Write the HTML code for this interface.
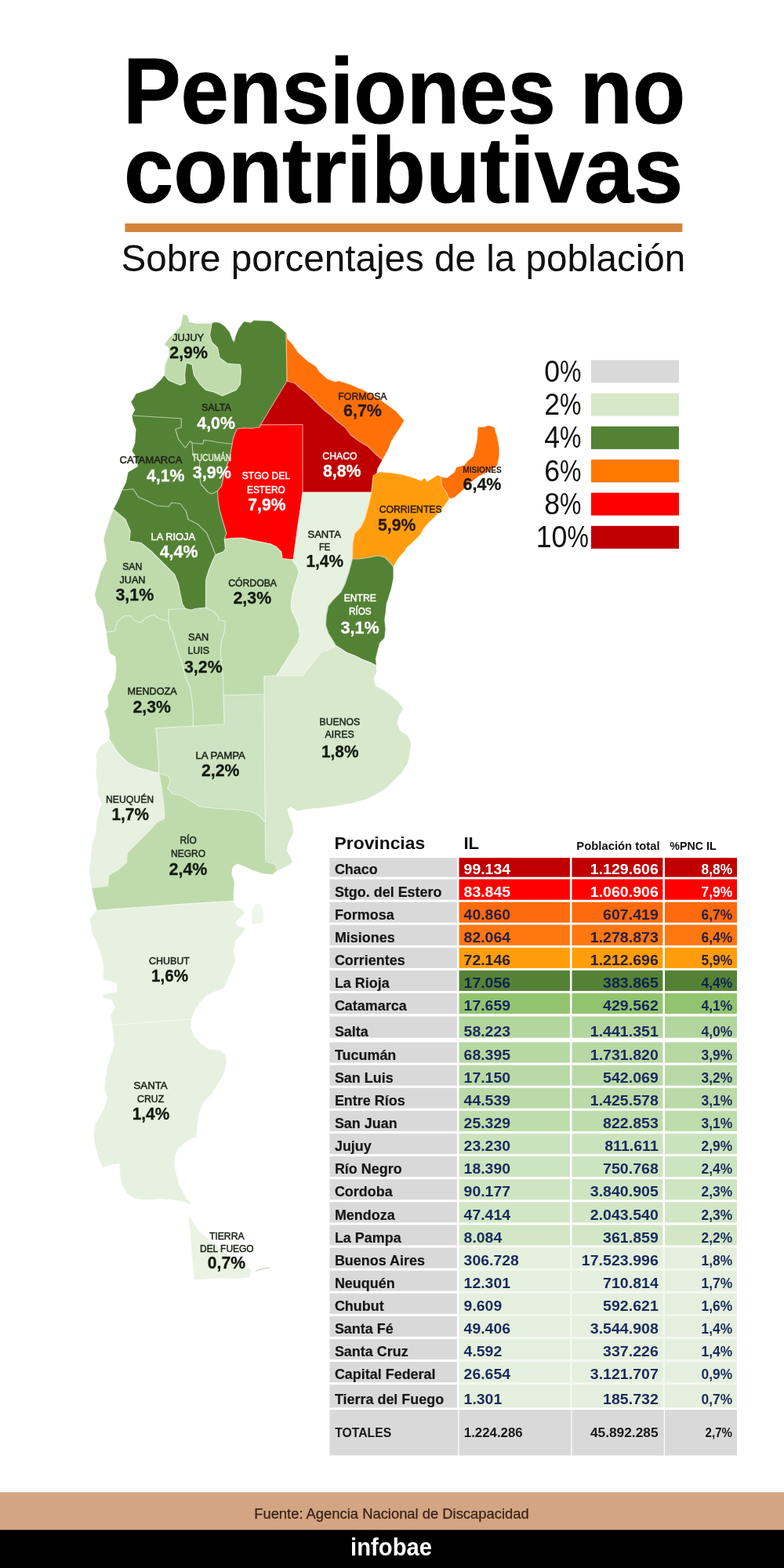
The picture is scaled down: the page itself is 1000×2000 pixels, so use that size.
<!DOCTYPE html>
<html lang="es">
<head>
<meta charset="utf-8">
<title>Pensiones no contributivas</title>
<style>
html,body{margin:0;padding:0;background:#fff;}
body{width:1000px;height:2000px;overflow:hidden;}
svg{display:block;font-family:'Liberation Sans', sans-serif;}
</style>
</head>
<body>
<svg width="1000" height="2000" viewBox="0 0 1000 2000">
<rect x="0" y="0" width="1000" height="2000" fill="#fff"/>
<text x="156.9" y="156.7" font-size="118.6" font-weight="700" fill="#000" textLength="717.3" lengthAdjust="spacingAndGlyphs" stroke="#000" stroke-width="1" stroke-linejoin="round">Pensiones no</text>
<text x="158.1" y="258.1" font-size="118.6" font-weight="700" fill="#000" textLength="713.2" lengthAdjust="spacingAndGlyphs" stroke="#000" stroke-width="1" stroke-linejoin="round">contributivas</text>
<rect x="159.4" y="285" width="711" height="11" fill="#D2853A"/>
<text x="154.5" y="346" font-size="49" fill="#111" textLength="719.8" lengthAdjust="spacingAndGlyphs">Sobre porcentajes de la población</text>
<g stroke-linejoin="round" stroke-width="0.6">
<polygon points="270,413 273.75,411.25 280,412 286.25,416.25 292.5,423.75 296.25,433.75 298.75,437 301.25,427.5 305,418.75 311.25,410.5 320,412 323.75,409 346.25,410 355,416.25 365,425 366,486 330.5,545 320,546.3 311,545.8 302.5,547 299.5,553 297.2,560 296.25,566.25 280,564.5 270,562.5 260,561.25 258.75,566.25 245,565 242.5,562.5 236.25,571.25 227.5,560 223.75,547.5 231.25,545 231.25,533.75 200,532 168.75,530 172.5,522.5 170,517.5 167.5,512.5 171.25,507.5 173.75,502.5 185,498.75 195,495 200,490 206.25,483.75 210,478.75 215,485 230,491.25 236.25,488.75 235.5,477.5 237.5,462.5 245,465 247.5,478.75 255,490 262.5,497.5 272.5,500 283.75,505 301.25,497.5 306.25,490 307.5,472.5 306.25,465 290,463.75 280,456.25 277.5,443.75 270,436.25 267.5,427.5" fill="#548235" stroke="#548235"/>
<polygon points="210,478.75 211.25,465 216.25,452.5 215,442.5 210,440 215,432.5 225,422.5 231.25,415 233.75,401.25 238.75,402.5 241.25,411.25 250,413 270,413 267.5,427.5 270,436.25 277.5,443.75 280,456.25 290,463.75 306.25,465 307.5,472.5 306.25,490 301.25,497.5 283.75,505 272.5,500 262.5,497.5 255,490 247.5,478.75 245,465 237.5,462.5 235.5,477.5 236.25,488.75 230,491.25 215,485" fill="#BFDBAC" stroke="#BFDBAC"/>
<polygon points="365,425 366.25,432.5 371.25,437.5 380,450 392.5,461.25 402.5,467.5 407.5,475 417.5,483.75 427.5,487.5 432.5,486.25 447.5,491.25 465,498.75 482.5,508.75 495,517.5 505,525 515,536.25 510,545 505,552.5 498.75,562.5 495,572.5 487.5,586.25 480,580 470,570 457.5,562.5 447.5,555 440,545 430,537.5 422.5,530 412.5,522.5 402.5,512.5 392.5,502.5 382.5,495 376.25,488.75 366.25,486.25 366,486" fill="#FF7009" stroke="#FF7009"/>
<polygon points="366.25,486.25 376.25,488.75 382.5,495 392.5,502.5 402.5,512.5 412.5,522.5 422.5,530 430,537.5 440,545 447.5,555 457.5,562.5 470,570 480,580 487.5,586.25 481.25,597.5 480,603.75 476.25,606.25 475,617.5 473.75,628 386,628 386,585 386,541.5 333,541.8 330.5,545 366,486" fill="#C00000" stroke="#C00000"/>
<polygon points="296.25,566.25 297.2,560 299.5,553 302.5,547 311,545.8 320,546.3 330.5,545 333,541.8 386,541.5 386,585 386,628 383.75,645 380,670 377,692.5 374.25,713 372.5,713.75 360,712.5 358.75,703.75 352.5,697.5 345,693.75 332.5,691.25 320,688.75 310,686.25 300,686.25 286.25,687.5 288.75,680 285,667.5 280,650 278,637.5 277.5,626.25 282.5,620 286.25,602.5 292.5,585" fill="#FF0000" stroke="#FF0000"/>
<polygon points="245,565 258.75,566.25 260,561.25 270,562.5 280,564.5 296.25,566.25 292.5,585 286.25,602.5 282.5,620 277.5,626.25 270,630 265,627.5 256.25,617.5 253.75,602.5 255,587.5 246.25,581.25" fill="#548235" stroke="#548235"/>
<polygon points="168.75,530 200,532 231.25,533.75 231.25,545 223.75,547.5 227.5,560 236.25,571.25 242.5,562.5 245,565 246.25,581.25 255,587.5 253.75,602.5 256.25,617.5 265,627.5 270,630 277.5,626.25 278,637.5 280,650 285,667.5 288.75,680 286.25,687.5 287.5,700 285,703.75 275,707.5 270,695 263.75,680 252.5,668.75 240,662.5 237.5,652.5 230,642.5 218.75,641.25 215,646.25 200,645 190,640 176.25,633.75 170,623.75 156.25,625 161.25,615 163.75,602.5 176.25,595 173.75,582.5 168.75,575 172.5,565 173.75,547.5 170,537.5" fill="#548235" stroke="#548235"/>
<polygon points="156.25,625 170,623.75 176.25,633.75 190,640 200,645 215,646.25 218.75,641.25 230,642.5 237.5,652.5 240,662.5 252.5,668.75 263.75,680 270,695 275,707.5 271.25,715 266.25,727.5 262.5,740 262.5,775 250,776.25 243.75,778 236.25,776.25 232.5,770 230,757.5 227.5,745 222.5,732.5 215,725 205,715 192.5,702.5 180,692.5 165,690 166.25,677.5 160,662.5 145,650 151.25,637.5" fill="#548235" stroke="#548235"/>
<polygon points="145,650 141.25,660 136.25,675 132.5,687.5 135,702.5 136.25,715 128.75,730 125,745 121.25,757.5 123.75,770 131.25,780 133.75,795 136.25,806.25 146.25,805 150,792.5 160,785 167.5,786.25 172.5,792.5 180,793.75 187.5,787.5 196.25,783.75 202.5,788.75 215,792.5 215,777.5 236.25,776.25 232.5,770 230,757.5 227.5,745 222.5,732.5 215,725 205,715 192.5,702.5 180,692.5 165,690 166.25,677.5 160,662.5" fill="#BFDBAC" stroke="#BFDBAC"/>
<polygon points="236.25,776.25 243.75,778 250,776.25 262.5,775 272.5,780 277.5,785 280,791.25 287.5,792.5 286.25,805 282.5,817.5 281.25,832.5 282.5,845 283.75,857.5 285,870 285,887 286.25,923.75 246.25,926.25 246.25,907.5 245,892.5 242.5,877.5 236.25,862.5 232.5,847.5 227.5,832.5 223.75,820 220,805 217.5,802.5 215,792.5 215,777.5" fill="#BFDBAC" stroke="#BFDBAC"/>
<polygon points="286.25,687.5 300,686.25 310,686.25 320,688.75 332.5,691.25 345,693.75 352.5,697.5 358.75,703.75 360,712.5 372.5,713.75 378.75,722.5 381.25,730 378.75,738.75 375,750 372.5,760 371.25,772.5 372.5,780 377.5,790 381.25,800 382.5,810 380,820 372.5,830 365,842.5 358.75,852.5 352.5,862 337,862.5 337,885.5 285,887 285,870 283.75,857.5 282.5,845 281.25,832.5 282.5,817.5 286.25,805 287.5,792.5 280,791.25 277.5,785 272.5,780 262.5,775 262.5,740 266.25,727.5 271.25,715 275,707.5 285,703.75 287.5,700" fill="#BFDBAC" stroke="#BFDBAC"/>
<polygon points="386,628 473.75,628 470,645 465,662.5 460,672.5 452.5,680 450,692.5 449.5,713 445,730 440,745 435,755 425,765 418.75,772.5 416.25,785 415.5,797.5 418.75,807.5 425,817.5 428.75,823.75 416.25,830.5 410,831.25 386.25,862 352.5,862 358.75,852.5 365,842.5 372.5,830 380,820 382.5,810 381.25,800 377.5,790 372.5,780 371.25,772.5 372.5,760 375,750 378.75,738.75 381.25,730 378.75,722.5 372.5,713.75 374.25,713 377,692.5 380,670 383.75,645" fill="#E7F1E0" stroke="#E7F1E0"/>
<polygon points="476.25,606.25 485,602.5 500,603.75 515,606.25 527.5,610 537.5,613.75 541.25,610 545,615 552.5,610 558.75,606.25 562.5,608.75 563.75,620 568.75,627.5 572.5,635 572,637.2 566,645.6 558.8,654 553.4,660 545.6,667.2 539.6,674.4 536,681.6 530,687.6 524,693.6 518,698.4 515.6,703.2 510.8,708 507.2,712.8 503.6,718.8 501.25,722.5 497.5,717.5 491.25,711.25 482.5,708.75 470,711.25 457.5,713 449.5,713 450,692.5 452.5,680 460,672.5 465,662.5 470,645 473.75,628 475,617.5" fill="#FF9D0E" stroke="#FF9D0E"/>
<polygon points="562.5,608.75 570,610 580,602.5 582.5,596.25 592.5,593.75 597.5,587.5 603.75,582.5 606.25,573.75 608.75,562.5 610,545 617.5,545 622.5,543 630,545 633.75,557.5 636.25,570 636.25,582.5 633.75,593.75 622.5,601.25 610,607.5 600,615 590,625 580,633.75 575,635.5 572.5,635 568.75,627.5 563.75,620" fill="#FF7009" stroke="#FF7009"/>
<polygon points="449.5,713 457.5,713 470,711.25 482.5,708.75 491.25,711.25 497.5,717.5 501.25,722.5 501.25,737.5 498.75,750 495,762.5 492.5,770 491.25,782.5 490,790 491.25,802.5 490,813.75 483.75,820 481.25,830 478.75,840 479.5,848.75 472.5,845 462.5,841.25 452.5,836.25 442.5,832.5 435,827.5 428.75,823.75 425,817.5 418.75,807.5 415.5,797.5 416.25,785 418.75,772.5 425,765 435,755 440,745 445,730" fill="#548235" stroke="#548235"/>
<polygon points="215,792.5 202.5,788.75 196.25,783.75 187.5,787.5 180,793.75 172.5,792.5 167.5,786.25 160,785 150,792.5 146.25,805 136.25,806.25 137.5,820 140,832.5 147.5,837.5 148.75,850 147.5,865 142.5,877.5 137.5,887.5 138.75,900 133.75,907.5 137.5,920 140,932.5 140,943.75 150,960 162.5,972.5 175,978.75 192.5,983.75 202.5,986.25 202.5,975 201.25,955 200,940 198.75,928.75 246.25,926.25 246.25,907.5 245,892.5 242.5,877.5 236.25,862.5 232.5,847.5 227.5,832.5 223.75,820 220,805 217.5,802.5" fill="#BFDBAC" stroke="#BFDBAC"/>
<polygon points="202.5,986.25 202.5,975 201.25,955 200,940 198.75,928.75 246.25,926.25 286.25,923.75 285,887 337,885.5 338.25,1048.75 330,1040 320,1035 300,1032.5 275,1031.25 255,1028.75 245,1022.5 232.5,1015 220,1012.5 213.75,1005 217.5,997.5 215,990" fill="#CEE3C1" stroke="#CEE3C1"/>
<polygon points="352.5,862 386.25,862 410,831.25 416.25,830.5 428.75,823.75 435,827.5 442.5,832.5 452.5,836.25 462.5,841.25 472.5,845 479.5,848.75 480,857.5 476.25,865 478.75,875 487.5,880 497.5,886.25 507.5,895 513.75,903.75 508.75,912.5 506.25,922.5 510,932.5 520,938.75 523.75,947.5 522.5,960 520,972.5 512.5,985 502.5,995 492.5,1005 480,1012.5 467.5,1018.75 450,1023.75 430,1027.5 410,1030 395,1031.25 380,1033.75 370,1028.75 366.25,1032.5 368.75,1042.5 372.5,1050 373.75,1062.5 367.5,1075 365,1085 370,1092.5 372.5,1100 360,1107.5 353.75,1110 351.25,1102.5 338.75,1098.75 338.25,1048.75 337,885.5 337,862.5" fill="#D7E8CD" stroke="#D7E8CD"/>
<polygon points="202.5,986.25 192.5,983.75 175,978.75 162.5,972.5 150,960 140,943.75 127.5,952.5 122.5,962.5 123.75,975 122.5,987.5 125,1000 125,1012.5 130,1025 123.75,1045 122.5,1062.5 117.5,1077.5 116.25,1095 113.75,1112.5 117.5,1132.5 137.5,1130 138.75,1116.25 150,1110 161.25,1100 162.5,1087.5 172.5,1077.5 182.5,1067.5 192.5,1057.5 200,1048.75 210,1043.75 208.75,1025 205,997.5" fill="#E7F1E0" stroke="#E7F1E0"/>
<polygon points="202.5,986.25 205,997.5 208.75,1025 210,1043.75 200,1048.75 192.5,1057.5 182.5,1067.5 172.5,1077.5 162.5,1087.5 161.25,1100 150,1110 138.75,1116.25 137.5,1130 117.5,1132.5 120,1145 123.75,1161.25 175,1157.5 225,1153.75 275,1150.5 297.5,1149.5 297.5,1137.5 298.75,1125 295,1115 296.25,1106.25 302.5,1101.25 312.5,1105 322.5,1110 335,1113.75 347.5,1115 353.75,1110 351.25,1102.5 338.75,1098.75 338.25,1048.75 330,1040 320,1035 300,1032.5 275,1031.25 255,1028.75 245,1022.5 232.5,1015 220,1012.5 213.75,1005 217.5,997.5 215,990" fill="#BFDBAC" stroke="#BFDBAC"/>
<polygon points="123.75,1161.25 175,1157.5 225,1153.75 275,1150.5 297.5,1149.5 301.2,1156.7 309,1160 311.6,1164.5 305,1171 300,1176.9 303.8,1182 313,1183.4 309,1190.5 302.5,1197 300,1200 297.5,1212.5 300,1225 295,1237.5 290,1250 285,1260 272.5,1265 262.5,1270 253.75,1280 247.5,1290 243.75,1300 212.5,1302 175,1305 143.75,1307.5 141.25,1295 147.5,1285 142.5,1275 131.25,1272.5 132.5,1268.75 150,1265 148.75,1253.75 131.25,1248.75 132.5,1237.5 131.25,1225 127.5,1212.5 122.5,1200 117.5,1190 115,1172.5" fill="#E7F1E0" stroke="#E7F1E0"/>
<polygon points="243.75,1300 242.5,1310 247.5,1322.5 257.5,1332.5 267.5,1338.75 280,1340 287.5,1345 288.75,1355 285,1370 277.5,1382.5 270,1395 260,1405 255,1415 252.5,1425 251.25,1437.5 250,1450 242.5,1452.5 235,1457.5 227.5,1465 222.5,1475 222.5,1487.5 225,1500 227.5,1510 232.5,1520 238.75,1530 243.75,1536.25 235,1532.5 220,1530 205,1528.75 187.5,1530 172.5,1528.75 162.5,1522.5 156.25,1512.5 153.75,1500 152.5,1483.75 142.5,1485 131.25,1488.75 127.5,1480 122.5,1465 120,1450 121.25,1435 127.5,1425 133.75,1412.5 137.5,1400 133.75,1390 135,1375 137.5,1360 142.5,1345 146.25,1332.5 145,1320 143.75,1307.5" fill="#E7F1E0" stroke="#E7F1E0"/>
<polygon points="241,1552 246,1560 255,1572 270,1585 290,1600 310,1612 320,1620 318,1629 300,1631 280,1630 262,1631 248,1632 246,1610 244,1585 242,1565" fill="#EAF3E4" stroke="#EAF3E4"/>
<polygon points="322,1178.8 335,1176.2 336.3,1164.5 332.4,1152.8 324.6,1154.1 322,1160.6 320.7,1171" fill="#F0F6EC" stroke="#F0F6EC"/>
</g>
<g fill="none" stroke="#fff" stroke-width="1.2" stroke-linejoin="round" stroke-linecap="round" opacity="0.55">
<polyline points="270,413 267.5,427.5 270,436.25 277.5,443.75 280,456.25 290,463.75 306.25,465 307.5,472.5 306.25,490 301.25,497.5 283.75,505 272.5,500 262.5,497.5 255,490 247.5,478.75 245,465 237.5,462.5 235.5,477.5 236.25,488.75 230,491.25 215,485 210,478.75"/>
<polyline points="365,425 366,486"/>
<polyline points="366,486 330.5,545"/>
<polyline points="330.5,545 320,546.3 311,545.8 302.5,547 299.5,553 297.2,560 296.25,566.25"/>
<polyline points="296.25,566.25 280,564.5 270,562.5 260,561.25 258.75,566.25 245,565"/>
<polyline points="245,565 242.5,562.5 236.25,571.25 227.5,560 223.75,547.5 231.25,545 231.25,533.75 200,532 168.75,530"/>
<polyline points="366.25,486.25 376.25,488.75 382.5,495 392.5,502.5 402.5,512.5 412.5,522.5 422.5,530 430,537.5 440,545 447.5,555 457.5,562.5 470,570 480,580 487.5,586.25"/>
<polyline points="476.25,606.25 475,617.5 473.75,628"/>
<polyline points="473.75,628 386,628"/>
<polyline points="386,628 386,585 386,541.5 333,541.8 330.5,545"/>
<polyline points="386,628 383.75,645 380,670 377,692.5 374.25,713"/>
<polyline points="372.5,713.75 360,712.5 358.75,703.75 352.5,697.5 345,693.75 332.5,691.25 320,688.75 310,686.25 300,686.25 286.25,687.5"/>
<polyline points="286.25,687.5 288.75,680 285,667.5 280,650 278,637.5 277.5,626.25"/>
<polyline points="277.5,626.25 282.5,620 286.25,602.5 292.5,585 296.25,566.25"/>
<polyline points="245,565 246.25,581.25 255,587.5 253.75,602.5 256.25,617.5 265,627.5 270,630 277.5,626.25"/>
<polyline points="156.25,625 170,623.75 176.25,633.75 190,640 200,645 215,646.25 218.75,641.25 230,642.5 237.5,652.5 240,662.5 252.5,668.75 263.75,680 270,695 275,707.5"/>
<polyline points="275,707.5 285,703.75 287.5,700 286.25,687.5"/>
<polyline points="145,650 160,662.5 166.25,677.5 165,690 180,692.5 192.5,702.5 205,715 215,725 222.5,732.5 227.5,745 230,757.5 232.5,770 236.25,776.25"/>
<polyline points="236.25,776.25 243.75,778 250,776.25 262.5,775"/>
<polyline points="262.5,775 262.5,740 266.25,727.5 271.25,715 275,707.5"/>
<polyline points="136.25,806.25 146.25,805 150,792.5 160,785 167.5,786.25 172.5,792.5 180,793.75 187.5,787.5 196.25,783.75 202.5,788.75 215,792.5"/>
<polyline points="215,792.5 215,777.5 236.25,776.25"/>
<polyline points="262.5,775 272.5,780 277.5,785 280,791.25 287.5,792.5 286.25,805 282.5,817.5 281.25,832.5 282.5,845 283.75,857.5 285,870 285,887"/>
<polyline points="285,887 286.25,923.75 246.25,926.25"/>
<polyline points="246.25,926.25 246.25,907.5 245,892.5 242.5,877.5 236.25,862.5 232.5,847.5 227.5,832.5 223.75,820 220,805 217.5,802.5 215,792.5"/>
<polyline points="372.5,713.75 378.75,722.5 381.25,730 378.75,738.75 375,750 372.5,760 371.25,772.5 372.5,780 377.5,790 381.25,800 382.5,810 380,820 372.5,830 365,842.5 358.75,852.5 352.5,862"/>
<polyline points="352.5,862 337,862.5 337,885.5"/>
<polyline points="337,885.5 285,887"/>
<polyline points="473.75,628 470,645 465,662.5 460,672.5 452.5,680 450,692.5 449.5,713"/>
<polyline points="449.5,713 445,730 440,745 435,755 425,765 418.75,772.5 416.25,785 415.5,797.5 418.75,807.5 425,817.5 428.75,823.75"/>
<polyline points="428.75,823.75 416.25,830.5 410,831.25 386.25,862 352.5,862"/>
<polyline points="562.5,608.75 563.75,620 568.75,627.5 572.5,635"/>
<polyline points="501.25,722.5 497.5,717.5 491.25,711.25 482.5,708.75 470,711.25 457.5,713 449.5,713"/>
<polyline points="479.5,848.75 472.5,845 462.5,841.25 452.5,836.25 442.5,832.5 435,827.5 428.75,823.75"/>
<polyline points="140,943.75 150,960 162.5,972.5 175,978.75 192.5,983.75 202.5,986.25"/>
<polyline points="202.5,986.25 202.5,975 201.25,955 200,940 198.75,928.75 246.25,926.25"/>
<polyline points="337,885.5 338.25,1048.75"/>
<polyline points="202.5,986.25 215,990 217.5,997.5 213.75,1005 220,1012.5 232.5,1015 245,1022.5 255,1028.75 275,1031.25 300,1032.5 320,1035 330,1040 338.25,1048.75"/>
<polyline points="353.75,1110 351.25,1102.5 338.75,1098.75 338.25,1048.75"/>
<polyline points="202.5,986.25 205,997.5 208.75,1025 210,1043.75 200,1048.75 192.5,1057.5 182.5,1067.5 172.5,1077.5 162.5,1087.5 161.25,1100 150,1110 138.75,1116.25 137.5,1130 117.5,1132.5"/>
<polyline points="123.75,1161.25 175,1157.5 225,1153.75 275,1150.5 297.5,1149.5"/>
<polyline points="143.75,1307.5 175,1305 212.5,1302 243.75,1300"/>
</g>
<path d="M326.4 1620.8 L334 1618.6 L343.2 1616.6" fill="none" stroke="#C9D1C4" stroke-width="1.4" stroke-linecap="round"/>
<g>
<text transform="translate(220.00 435) scale(1.013 1)" font-size="12.7" stroke="#1b2418" stroke-width="0.5" fill="#1b2418">JUJUY</text>
<text transform="translate(216.30 457) scale(0.937 1)" font-size="22.8" font-weight="700" stroke="#121a10" stroke-width="0.3" fill="#121a10">2,9%</text>
<text transform="translate(257.00 523.7) scale(0.989 1)" font-size="12.7" stroke="#1c2616" stroke-width="0.5" fill="#1c2616">SALTA</text>
<text transform="translate(251.30 547) scale(0.937 1)" font-size="22.8" font-weight="700" stroke="#ffffff" stroke-width="0.3" fill="#ffffff">4,0%</text>
<text transform="translate(152.50 590.7) scale(1.027 1)" font-size="12.7" stroke="#20241c" stroke-width="0.5" fill="#20241c">CATAMARCA</text>
<text transform="translate(187.00 613.7) scale(0.933 1)" font-size="22.8" font-weight="700" stroke="#ffffff" stroke-width="0.3" fill="#ffffff">4,1%</text>
<text transform="translate(245.00 587.5) scale(0.787 1)" font-size="12.7" stroke="#e3efd8" stroke-width="0.5" fill="#e3efd8">TUCUMÁN</text>
<text transform="translate(245.80 610) scale(0.946 1)" font-size="22.8" font-weight="700" stroke="#ffffff" stroke-width="0.3" fill="#ffffff">3,9%</text>
<text transform="translate(308.70 611.2) scale(0.955 1)" font-size="12.7" stroke="#ffffff" stroke-width="0.5" fill="#ffffff">STGO DEL</text>
<text transform="translate(315.00 628.7) scale(0.933 1)" font-size="12.7" stroke="#ffffff" stroke-width="0.5" fill="#ffffff">ESTERO</text>
<text transform="translate(316.30 651.2) scale(0.927 1)" font-size="22.8" font-weight="700" stroke="#ffffff" stroke-width="0.3" fill="#ffffff">7,9%</text>
<text transform="translate(431.30 509.5) scale(0.971 1)" font-size="12.7" stroke="#2b1a12" stroke-width="0.5" fill="#2b1a12">FORMOSA</text>
<text transform="translate(438.00 531.2) scale(0.943 1)" font-size="22.8" font-weight="700" stroke="#2b1a12" stroke-width="0.3" fill="#2b1a12">6,7%</text>
<text transform="translate(411.30 586.2) scale(0.968 1)" font-size="12.7" stroke="#ffffff" stroke-width="0.5" fill="#ffffff">CHACO</text>
<text transform="translate(412.00 608) scale(0.933 1)" font-size="22.8" font-weight="700" stroke="#ffffff" stroke-width="0.3" fill="#ffffff">8,8%</text>
<text transform="translate(590.30 603) scale(0.927 1)" font-size="10.9" font-weight="700" fill="#26170f">MISIONES</text>
<text transform="translate(590.50 624.5) scale(0.943 1)" font-size="22.8" font-weight="700" stroke="#121a10" stroke-width="0.3" fill="#121a10">6,4%</text>
<text transform="translate(483.70 653.7) scale(0.961 1)" font-size="12.7" stroke="#2b1a12" stroke-width="0.5" fill="#2b1a12">CORRIENTES</text>
<text transform="translate(482.00 677) scale(0.933 1)" font-size="22.8" font-weight="700" stroke="#2b1a12" stroke-width="0.3" fill="#2b1a12">5,9%</text>
<text transform="translate(392.50 685.5) scale(1.025 1)" font-size="12.7" stroke="#1b2418" stroke-width="0.5" fill="#1b2418">SANTA</text>
<text transform="translate(407.00 702) scale(0.874 1)" font-size="12.7" stroke="#1b2418" stroke-width="0.5" fill="#1b2418">FE</text>
<text transform="translate(390.50 722.5) scale(0.914 1)" font-size="22.8" font-weight="700" stroke="#121a10" stroke-width="0.3" fill="#121a10">1,4%</text>
<text transform="translate(192.50 689.2) scale(1.016 1)" font-size="12.7" stroke="#ffffff" stroke-width="0.5" fill="#ffffff">LA RIOJA</text>
<text transform="translate(203.70 711.2) scale(0.939 1)" font-size="22.8" font-weight="700" stroke="#ffffff" stroke-width="0.3" fill="#ffffff">4,4%</text>
<text transform="translate(156.20 727) scale(0.958 1)" font-size="12.7" stroke="#1b2418" stroke-width="0.5" fill="#1b2418">SAN</text>
<text transform="translate(152.50 743.7) scale(0.996 1)" font-size="12.7" stroke="#1b2418" stroke-width="0.5" fill="#1b2418">JUAN</text>
<text transform="translate(147.50 765.7) scale(0.937 1)" font-size="22.8" font-weight="700" stroke="#121a10" stroke-width="0.3" fill="#121a10">3,1%</text>
<text transform="translate(291.20 747.5) scale(0.962 1)" font-size="12.7" stroke="#1b2418" stroke-width="0.5" fill="#1b2418">CÓRDOBA</text>
<text transform="translate(297.50 770) scale(0.937 1)" font-size="22.8" font-weight="700" stroke="#121a10" stroke-width="0.3" fill="#121a10">2,3%</text>
<text transform="translate(438.70 767) scale(0.959 1)" font-size="12.7" stroke="#ffffff" stroke-width="0.5" fill="#ffffff">ENTRE</text>
<text transform="translate(445.00 783.7) scale(0.924 1)" font-size="12.7" stroke="#ffffff" stroke-width="0.5" fill="#ffffff">RÍOS</text>
<text transform="translate(434.50 807.5) scale(0.946 1)" font-size="22.8" font-weight="700" stroke="#ffffff" stroke-width="0.3" fill="#ffffff">3,1%</text>
<text transform="translate(240.00 817) scale(1.004 1)" font-size="12.7" stroke="#1b2418" stroke-width="0.5" fill="#1b2418">SAN</text>
<text transform="translate(239.50 834.2) scale(0.973 1)" font-size="12.7" stroke="#1b2418" stroke-width="0.5" fill="#1b2418">LUIS</text>
<text transform="translate(235.00 857.5) scale(0.937 1)" font-size="22.8" font-weight="700" stroke="#121a10" stroke-width="0.3" fill="#121a10">3,2%</text>
<text transform="translate(162.50 886.2) scale(0.994 1)" font-size="12.7" stroke="#1b2418" stroke-width="0.5" fill="#1b2418">MENDOZA</text>
<text transform="translate(169.50 908.7) scale(0.933 1)" font-size="22.8" font-weight="700" stroke="#121a10" stroke-width="0.3" fill="#121a10">2,3%</text>
<text transform="translate(407.50 924.5) scale(0.964 1)" font-size="12.7" stroke="#1b2418" stroke-width="0.5" fill="#1b2418">BUENOS</text>
<text transform="translate(414.50 941.2) scale(0.976 1)" font-size="12.7" stroke="#1b2418" stroke-width="0.5" fill="#1b2418">AIRES</text>
<text transform="translate(410.00 965.5) scale(0.914 1)" font-size="22.8" font-weight="700" stroke="#121a10" stroke-width="0.3" fill="#121a10">1,8%</text>
<text transform="translate(249.50 967.5) scale(1.042 1)" font-size="12.7" stroke="#1b2418" stroke-width="0.5" fill="#1b2418">LA PAMPA</text>
<text transform="translate(257.00 990) scale(0.933 1)" font-size="22.8" font-weight="700" stroke="#121a10" stroke-width="0.3" fill="#121a10">2,2%</text>
<text transform="translate(135.00 1023.7) scale(0.964 1)" font-size="12.7" stroke="#1b2418" stroke-width="0.5" fill="#1b2418">NEUQUÉN</text>
<text transform="translate(142.50 1046.2) scale(0.914 1)" font-size="22.8" font-weight="700" stroke="#121a10" stroke-width="0.3" fill="#121a10">1,7%</text>
<text transform="translate(229.50 1075.5) scale(0.938 1)" font-size="12.7" stroke="#1b2418" stroke-width="0.5" fill="#1b2418">RÍO</text>
<text transform="translate(218.00 1092.5) scale(0.945 1)" font-size="12.7" stroke="#1b2418" stroke-width="0.5" fill="#1b2418">NEGRO</text>
<text transform="translate(215.50 1116.2) scale(0.943 1)" font-size="22.8" font-weight="700" stroke="#121a10" stroke-width="0.3" fill="#121a10">2,4%</text>
<text transform="translate(190.00 1229.5) scale(0.983 1)" font-size="12.7" stroke="#1b2418" stroke-width="0.5" fill="#1b2418">CHUBUT</text>
<text transform="translate(193.00 1252) scale(0.904 1)" font-size="22.8" font-weight="700" stroke="#121a10" stroke-width="0.3" fill="#121a10">1,6%</text>
<text transform="translate(170.50 1388.7) scale(1.042 1)" font-size="12.7" stroke="#1b2418" stroke-width="0.5" fill="#1b2418">SANTA</text>
<text transform="translate(175.00 1405.5) scale(0.970 1)" font-size="12.7" stroke="#1b2418" stroke-width="0.5" fill="#1b2418">CRUZ</text>
<text transform="translate(168.70 1428) scale(0.914 1)" font-size="22.8" font-weight="700" stroke="#121a10" stroke-width="0.3" fill="#121a10">1,4%</text>
<text transform="translate(266.90 1580.5) scale(0.961 1)" font-size="12.7" stroke="#1b2418" stroke-width="0.5" fill="#1b2418">TIERRA</text>
<text transform="translate(255.00 1597.3) scale(0.941 1)" font-size="12.7" stroke="#1b2418" stroke-width="0.5" fill="#1b2418">DEL FUEGO</text>
<text transform="translate(264.80 1617.7) scale(0.929 1)" font-size="22.8" font-weight="700" stroke="#121a10" stroke-width="0.3" fill="#121a10">0,7%</text>
</g>
<rect x="754" y="459.3" width="112" height="29" fill="#D9D9D9"/>
<text x="694.3" y="486.8" font-size="38" fill="#111"><tspan textLength="19.8" lengthAdjust="spacingAndGlyphs">0</tspan><tspan textLength="27.4" lengthAdjust="spacingAndGlyphs">%</tspan></text>
<rect x="754" y="501.6" width="112" height="29" fill="#D5E8C8"/>
<text x="694.3" y="529.1" font-size="38" fill="#111"><tspan textLength="19.8" lengthAdjust="spacingAndGlyphs">2</tspan><tspan textLength="27.4" lengthAdjust="spacingAndGlyphs">%</tspan></text>
<rect x="754" y="543.9" width="112" height="29" fill="#548235"/>
<text x="694.3" y="571.4" font-size="38" fill="#111"><tspan textLength="19.8" lengthAdjust="spacingAndGlyphs">4</tspan><tspan textLength="27.4" lengthAdjust="spacingAndGlyphs">%</tspan></text>
<rect x="754" y="586.2" width="112" height="29" fill="#FF7800"/>
<text x="694.3" y="613.7" font-size="38" fill="#111"><tspan textLength="19.8" lengthAdjust="spacingAndGlyphs">6</tspan><tspan textLength="27.4" lengthAdjust="spacingAndGlyphs">%</tspan></text>
<rect x="754" y="628.5" width="112" height="29" fill="#FF0000"/>
<text x="694.3" y="656.0" font-size="38" fill="#111"><tspan textLength="19.8" lengthAdjust="spacingAndGlyphs">8</tspan><tspan textLength="27.4" lengthAdjust="spacingAndGlyphs">%</tspan></text>
<rect x="754" y="670.8" width="112" height="29" fill="#C00000"/>
<text x="683.7" y="698.3" font-size="38" fill="#111"><tspan textLength="39.8" lengthAdjust="spacingAndGlyphs">10</tspan><tspan textLength="27.4" lengthAdjust="spacingAndGlyphs">%</tspan></text>
<text x="426.6" y="1083" font-size="22.7" font-weight="700" fill="#111" textLength="115.5" lengthAdjust="spacingAndGlyphs">Provincias</text>
<text x="591.5" y="1083" font-size="22.7" font-weight="700" fill="#111" textLength="19.6" lengthAdjust="spacingAndGlyphs">IL</text>
<text x="735.3" y="1083.6" font-size="15" font-weight="700" fill="#111" textLength="106.3" lengthAdjust="spacingAndGlyphs">Población total</text>
<text x="854.3" y="1083.6" font-size="15" font-weight="700" fill="#111" textLength="59.4" lengthAdjust="spacingAndGlyphs">%PNC IL</text>
<rect x="585.5" y="1590" width="354.5" height="205" fill="#F3F8EF"/>
<rect x="420.5" y="1094.2" width="162.4" height="24.4" fill="#D9D9D9"/>
<rect x="585.5" y="1094.2" width="141.4" height="24.4" fill="#C00000"/>
<rect x="729.5" y="1094.2" width="115.9" height="24.4" fill="#C00000"/>
<rect x="848" y="1094.2" width="92" height="24.4" fill="#C00000"/>
<text transform="translate(426.9 1114.8) scale(0.935 1)" font-size="19.2" font-weight="700" fill="#161616" stroke="#161616" stroke-width="0.2">Chaco</text>
<text transform="translate(591.6 1114.8) scale(1.012 1)" font-size="19.2" font-weight="700" fill="#fff">99.134</text>
<text transform="translate(839.8 1114.8) scale(1.02 1)" font-size="19.2" font-weight="700" fill="#fff" text-anchor="end">1.129.606</text>
<text transform="translate(934.2 1114.8) scale(0.905 1)" font-size="19.2" font-weight="700" fill="#fff" text-anchor="end">8,8%</text>
<rect x="420.5" y="1121.47" width="162.4" height="26.2" fill="#D9D9D9"/>
<rect x="585.5" y="1121.47" width="141.4" height="26.2" fill="#FF0000"/>
<rect x="729.5" y="1121.47" width="115.9" height="26.2" fill="#FF0000"/>
<rect x="848" y="1121.47" width="92" height="26.2" fill="#FF0000"/>
<text transform="translate(426.9 1143.87) scale(0.935 1)" font-size="19.2" font-weight="700" fill="#161616" stroke="#161616" stroke-width="0.2">Stgo. del Estero</text>
<text transform="translate(591.6 1143.87) scale(1.012 1)" font-size="19.2" font-weight="700" fill="#fff">83.845</text>
<text transform="translate(839.8 1143.87) scale(1.02 1)" font-size="19.2" font-weight="700" fill="#fff" text-anchor="end">1.060.906</text>
<text transform="translate(934.2 1143.87) scale(0.905 1)" font-size="19.2" font-weight="700" fill="#fff" text-anchor="end">7,9%</text>
<rect x="420.5" y="1150.54" width="162.4" height="26.2" fill="#D9D9D9"/>
<rect x="585.5" y="1150.54" width="141.4" height="26.2" fill="#FF6A0D"/>
<rect x="729.5" y="1150.54" width="115.9" height="26.2" fill="#FF6A0D"/>
<rect x="848" y="1150.54" width="92" height="26.2" fill="#FF6A0D"/>
<text transform="translate(426.9 1172.94) scale(0.935 1)" font-size="19.2" font-weight="700" fill="#161616" stroke="#161616" stroke-width="0.2">Formosa</text>
<text transform="translate(591.6 1172.94) scale(1.012 1)" font-size="19.2" font-weight="700" fill="#2a2040">40.860</text>
<text transform="translate(839.8 1172.94) scale(1.02 1)" font-size="19.2" font-weight="700" fill="#2a2040" text-anchor="end">607.419</text>
<text transform="translate(934.2 1172.94) scale(0.905 1)" font-size="19.2" font-weight="700" fill="#2a2040" text-anchor="end">6,7%</text>
<rect x="420.5" y="1179.61" width="162.4" height="26.2" fill="#D9D9D9"/>
<rect x="585.5" y="1179.61" width="141.4" height="26.2" fill="#FF7711"/>
<rect x="729.5" y="1179.61" width="115.9" height="26.2" fill="#FF7711"/>
<rect x="848" y="1179.61" width="92" height="26.2" fill="#FF7711"/>
<text transform="translate(426.9 1202.01) scale(0.935 1)" font-size="19.2" font-weight="700" fill="#161616" stroke="#161616" stroke-width="0.2">Misiones</text>
<text transform="translate(591.6 1202.01) scale(1.012 1)" font-size="19.2" font-weight="700" fill="#2a2040">82.064</text>
<text transform="translate(839.8 1202.01) scale(1.02 1)" font-size="19.2" font-weight="700" fill="#2a2040" text-anchor="end">1.278.873</text>
<text transform="translate(934.2 1202.01) scale(0.905 1)" font-size="19.2" font-weight="700" fill="#2a2040" text-anchor="end">6,4%</text>
<rect x="420.5" y="1208.68" width="162.4" height="26.2" fill="#D9D9D9"/>
<rect x="585.5" y="1208.68" width="141.4" height="26.2" fill="#FF9D0A"/>
<rect x="729.5" y="1208.68" width="115.9" height="26.2" fill="#FF9D0A"/>
<rect x="848" y="1208.68" width="92" height="26.2" fill="#FF9D0A"/>
<text transform="translate(426.9 1231.08) scale(0.935 1)" font-size="19.2" font-weight="700" fill="#161616" stroke="#161616" stroke-width="0.2">Corrientes</text>
<text transform="translate(591.6 1231.08) scale(1.012 1)" font-size="19.2" font-weight="700" fill="#2a2040">72.146</text>
<text transform="translate(839.8 1231.08) scale(1.02 1)" font-size="19.2" font-weight="700" fill="#2a2040" text-anchor="end">1.212.696</text>
<text transform="translate(934.2 1231.08) scale(0.905 1)" font-size="19.2" font-weight="700" fill="#2a2040" text-anchor="end">5,9%</text>
<rect x="420.5" y="1237.75" width="162.4" height="26.2" fill="#D9D9D9"/>
<rect x="585.5" y="1237.75" width="141.4" height="26.2" fill="#548235"/>
<rect x="729.5" y="1237.75" width="115.9" height="26.2" fill="#548235"/>
<rect x="848" y="1237.75" width="92" height="26.2" fill="#548235"/>
<text transform="translate(426.9 1260.15) scale(0.935 1)" font-size="19.2" font-weight="700" fill="#161616" stroke="#161616" stroke-width="0.2">La Rioja</text>
<text transform="translate(591.6 1260.15) scale(1.012 1)" font-size="19.2" font-weight="700" fill="#0f2350">17.056</text>
<text transform="translate(839.8 1260.15) scale(1.02 1)" font-size="19.2" font-weight="700" fill="#0f2350" text-anchor="end">383.865</text>
<text transform="translate(934.2 1260.15) scale(0.905 1)" font-size="19.2" font-weight="700" fill="#0f2350" text-anchor="end">4,4%</text>
<rect x="420.5" y="1266.82" width="162.4" height="26.2" fill="#D9D9D9"/>
<rect x="585.5" y="1266.82" width="141.4" height="26.2" fill="#92C46F"/>
<rect x="729.5" y="1266.82" width="115.9" height="26.2" fill="#92C46F"/>
<rect x="848" y="1266.82" width="92" height="26.2" fill="#92C46F"/>
<text transform="translate(426.9 1289.22) scale(0.935 1)" font-size="19.2" font-weight="700" fill="#161616" stroke="#161616" stroke-width="0.2">Catamarca</text>
<text transform="translate(591.6 1289.22) scale(1.012 1)" font-size="19.2" font-weight="700" fill="#13275a">17.659</text>
<text transform="translate(839.8 1289.22) scale(1.02 1)" font-size="19.2" font-weight="700" fill="#13275a" text-anchor="end">429.562</text>
<text transform="translate(934.2 1289.22) scale(0.905 1)" font-size="19.2" font-weight="700" fill="#13275a" text-anchor="end">4,1%</text>
<rect x="420.5" y="1296.5" width="162.4" height="27.2" fill="#D9D9D9"/>
<rect x="585.5" y="1296.5" width="141.4" height="27.2" fill="#B3D69E"/>
<rect x="729.5" y="1296.5" width="115.9" height="27.2" fill="#B3D69E"/>
<rect x="848" y="1296.5" width="92" height="27.2" fill="#B3D69E"/>
<text transform="translate(426.9 1322.4) scale(0.935 1)" font-size="19.2" font-weight="700" fill="#161616" stroke="#161616" stroke-width="0.2">Salta</text>
<text transform="translate(591.6 1322.4) scale(1.012 1)" font-size="19.2" font-weight="700" fill="#1a2a5e">58.223</text>
<text transform="translate(839.8 1322.4) scale(1.02 1)" font-size="19.2" font-weight="700" fill="#1a2a5e" text-anchor="end">1.441.351</text>
<text transform="translate(934.2 1322.4) scale(0.905 1)" font-size="19.2" font-weight="700" fill="#1a2a5e" text-anchor="end">4,0%</text>
<rect x="420.5" y="1329.4" width="162.4" height="26.1" fill="#D9D9D9"/>
<rect x="585.5" y="1329.4" width="141.4" height="26.1" fill="#B6D8A2"/>
<rect x="729.5" y="1329.4" width="115.9" height="26.1" fill="#B6D8A2"/>
<rect x="848" y="1329.4" width="92" height="26.1" fill="#B6D8A2"/>
<text transform="translate(426.9 1351.7) scale(0.935 1)" font-size="19.2" font-weight="700" fill="#161616" stroke="#161616" stroke-width="0.2">Tucumán</text>
<text transform="translate(591.6 1351.7) scale(1.012 1)" font-size="19.2" font-weight="700" fill="#1a2a5e">68.395</text>
<text transform="translate(839.8 1351.7) scale(1.02 1)" font-size="19.2" font-weight="700" fill="#1a2a5e" text-anchor="end">1.731.820</text>
<text transform="translate(934.2 1351.7) scale(0.905 1)" font-size="19.2" font-weight="700" fill="#1a2a5e" text-anchor="end">3,9%</text>
<rect x="420.5" y="1358.52" width="162.4" height="26.1" fill="#D9D9D9"/>
<rect x="585.5" y="1358.52" width="141.4" height="26.1" fill="#B9D9A6"/>
<rect x="729.5" y="1358.52" width="115.9" height="26.1" fill="#B9D9A6"/>
<rect x="848" y="1358.52" width="92" height="26.1" fill="#B9D9A6"/>
<text transform="translate(426.9 1380.82) scale(0.935 1)" font-size="19.2" font-weight="700" fill="#161616" stroke="#161616" stroke-width="0.2">San Luis</text>
<text transform="translate(591.6 1380.82) scale(1.012 1)" font-size="19.2" font-weight="700" fill="#1a2a5e">17.150</text>
<text transform="translate(839.8 1380.82) scale(1.02 1)" font-size="19.2" font-weight="700" fill="#1a2a5e" text-anchor="end">542.069</text>
<text transform="translate(934.2 1380.82) scale(0.905 1)" font-size="19.2" font-weight="700" fill="#1a2a5e" text-anchor="end">3,2%</text>
<rect x="420.5" y="1387.64" width="162.4" height="26.1" fill="#D9D9D9"/>
<rect x="585.5" y="1387.64" width="141.4" height="26.1" fill="#BBDAA8"/>
<rect x="729.5" y="1387.64" width="115.9" height="26.1" fill="#BBDAA8"/>
<rect x="848" y="1387.64" width="92" height="26.1" fill="#BBDAA8"/>
<text transform="translate(426.9 1409.94) scale(0.935 1)" font-size="19.2" font-weight="700" fill="#161616" stroke="#161616" stroke-width="0.2">Entre Ríos</text>
<text transform="translate(591.6 1409.94) scale(1.012 1)" font-size="19.2" font-weight="700" fill="#1a2a5e">44.539</text>
<text transform="translate(839.8 1409.94) scale(1.02 1)" font-size="19.2" font-weight="700" fill="#1a2a5e" text-anchor="end">1.425.578</text>
<text transform="translate(934.2 1409.94) scale(0.905 1)" font-size="19.2" font-weight="700" fill="#1a2a5e" text-anchor="end">3,1%</text>
<rect x="420.5" y="1416.76" width="162.4" height="26.1" fill="#D9D9D9"/>
<rect x="585.5" y="1416.76" width="141.4" height="26.1" fill="#BEDCAC"/>
<rect x="729.5" y="1416.76" width="115.9" height="26.1" fill="#BEDCAC"/>
<rect x="848" y="1416.76" width="92" height="26.1" fill="#BEDCAC"/>
<text transform="translate(426.9 1439.06) scale(0.935 1)" font-size="19.2" font-weight="700" fill="#161616" stroke="#161616" stroke-width="0.2">San Juan</text>
<text transform="translate(591.6 1439.06) scale(1.012 1)" font-size="19.2" font-weight="700" fill="#1a2a5e">25.329</text>
<text transform="translate(839.8 1439.06) scale(1.02 1)" font-size="19.2" font-weight="700" fill="#1a2a5e" text-anchor="end">822.853</text>
<text transform="translate(934.2 1439.06) scale(0.905 1)" font-size="19.2" font-weight="700" fill="#1a2a5e" text-anchor="end">3,1%</text>
<rect x="420.5" y="1445.88" width="162.4" height="26.1" fill="#D9D9D9"/>
<rect x="585.5" y="1445.88" width="141.4" height="26.1" fill="#CBE3BD"/>
<rect x="729.5" y="1445.88" width="115.9" height="26.1" fill="#CBE3BD"/>
<rect x="848" y="1445.88" width="92" height="26.1" fill="#CBE3BD"/>
<text transform="translate(426.9 1468.18) scale(0.935 1)" font-size="19.2" font-weight="700" fill="#161616" stroke="#161616" stroke-width="0.2">Jujuy</text>
<text transform="translate(591.6 1468.18) scale(1.012 1)" font-size="19.2" font-weight="700" fill="#1a2a5e">23.230</text>
<text transform="translate(839.8 1468.18) scale(1.02 1)" font-size="19.2" font-weight="700" fill="#1a2a5e" text-anchor="end">811.611</text>
<text transform="translate(934.2 1468.18) scale(0.905 1)" font-size="19.2" font-weight="700" fill="#1a2a5e" text-anchor="end">2,9%</text>
<rect x="420.5" y="1475.0" width="162.4" height="26.1" fill="#D9D9D9"/>
<rect x="585.5" y="1475.0" width="141.4" height="26.1" fill="#CDE4C0"/>
<rect x="729.5" y="1475.0" width="115.9" height="26.1" fill="#CDE4C0"/>
<rect x="848" y="1475.0" width="92" height="26.1" fill="#CDE4C0"/>
<text transform="translate(426.9 1497.3) scale(0.935 1)" font-size="19.2" font-weight="700" fill="#161616" stroke="#161616" stroke-width="0.2">Río Negro</text>
<text transform="translate(591.6 1497.3) scale(1.012 1)" font-size="19.2" font-weight="700" fill="#1a2a5e">18.390</text>
<text transform="translate(839.8 1497.3) scale(1.02 1)" font-size="19.2" font-weight="700" fill="#1a2a5e" text-anchor="end">750.768</text>
<text transform="translate(934.2 1497.3) scale(0.905 1)" font-size="19.2" font-weight="700" fill="#1a2a5e" text-anchor="end">2,4%</text>
<rect x="420.5" y="1504.12" width="162.4" height="26.1" fill="#D9D9D9"/>
<rect x="585.5" y="1504.12" width="141.4" height="26.1" fill="#CFE5C2"/>
<rect x="729.5" y="1504.12" width="115.9" height="26.1" fill="#CFE5C2"/>
<rect x="848" y="1504.12" width="92" height="26.1" fill="#CFE5C2"/>
<text transform="translate(426.9 1526.42) scale(0.935 1)" font-size="19.2" font-weight="700" fill="#161616" stroke="#161616" stroke-width="0.2">Cordoba</text>
<text transform="translate(591.6 1526.42) scale(1.012 1)" font-size="19.2" font-weight="700" fill="#1a2a5e">90.177</text>
<text transform="translate(839.8 1526.42) scale(1.02 1)" font-size="19.2" font-weight="700" fill="#1a2a5e" text-anchor="end">3.840.905</text>
<text transform="translate(934.2 1526.42) scale(0.905 1)" font-size="19.2" font-weight="700" fill="#1a2a5e" text-anchor="end">2,3%</text>
<rect x="420.5" y="1533.24" width="162.4" height="26.1" fill="#D9D9D9"/>
<rect x="585.5" y="1533.24" width="141.4" height="26.1" fill="#D1E6C5"/>
<rect x="729.5" y="1533.24" width="115.9" height="26.1" fill="#D1E6C5"/>
<rect x="848" y="1533.24" width="92" height="26.1" fill="#D1E6C5"/>
<text transform="translate(426.9 1555.54) scale(0.935 1)" font-size="19.2" font-weight="700" fill="#161616" stroke="#161616" stroke-width="0.2">Mendoza</text>
<text transform="translate(591.6 1555.54) scale(1.012 1)" font-size="19.2" font-weight="700" fill="#1a2a5e">47.414</text>
<text transform="translate(839.8 1555.54) scale(1.02 1)" font-size="19.2" font-weight="700" fill="#1a2a5e" text-anchor="end">2.043.540</text>
<text transform="translate(934.2 1555.54) scale(0.905 1)" font-size="19.2" font-weight="700" fill="#1a2a5e" text-anchor="end">2,3%</text>
<rect x="420.5" y="1562.36" width="162.4" height="26.1" fill="#D9D9D9"/>
<rect x="585.5" y="1562.36" width="141.4" height="26.1" fill="#D3E7C7"/>
<rect x="729.5" y="1562.36" width="115.9" height="26.1" fill="#D3E7C7"/>
<rect x="848" y="1562.36" width="92" height="26.1" fill="#D3E7C7"/>
<text transform="translate(426.9 1584.66) scale(0.935 1)" font-size="19.2" font-weight="700" fill="#161616" stroke="#161616" stroke-width="0.2">La Pampa</text>
<text transform="translate(591.6 1584.66) scale(1.012 1)" font-size="19.2" font-weight="700" fill="#1a2a5e">8.084</text>
<text transform="translate(839.8 1584.66) scale(1.02 1)" font-size="19.2" font-weight="700" fill="#1a2a5e" text-anchor="end">361.859</text>
<text transform="translate(934.2 1584.66) scale(0.905 1)" font-size="19.2" font-weight="700" fill="#1a2a5e" text-anchor="end">2,2%</text>
<rect x="420.5" y="1591.48" width="162.4" height="26.1" fill="#D9D9D9"/>
<rect x="585.5" y="1591.48" width="141.4" height="26.1" fill="#E4F0DD"/>
<rect x="729.5" y="1591.48" width="115.9" height="26.1" fill="#E4F0DD"/>
<rect x="848" y="1591.48" width="92" height="26.1" fill="#E4F0DD"/>
<text transform="translate(426.9 1613.78) scale(0.935 1)" font-size="19.2" font-weight="700" fill="#161616" stroke="#161616" stroke-width="0.2">Buenos Aires</text>
<text transform="translate(591.6 1613.78) scale(1.012 1)" font-size="19.2" font-weight="700" fill="#1a2a5e">306.728</text>
<text transform="translate(839.8 1613.78) scale(1.02 1)" font-size="19.2" font-weight="700" fill="#1a2a5e" text-anchor="end">17.523.996</text>
<text transform="translate(934.2 1613.78) scale(0.905 1)" font-size="19.2" font-weight="700" fill="#1a2a5e" text-anchor="end">1,8%</text>
<rect x="420.5" y="1620.6" width="162.4" height="26.1" fill="#D9D9D9"/>
<rect x="585.5" y="1620.6" width="141.4" height="26.1" fill="#E4F0DD"/>
<rect x="729.5" y="1620.6" width="115.9" height="26.1" fill="#E4F0DD"/>
<rect x="848" y="1620.6" width="92" height="26.1" fill="#E4F0DD"/>
<text transform="translate(426.9 1642.9) scale(0.935 1)" font-size="19.2" font-weight="700" fill="#161616" stroke="#161616" stroke-width="0.2">Neuquén</text>
<text transform="translate(591.6 1642.9) scale(1.012 1)" font-size="19.2" font-weight="700" fill="#1a2a5e">12.301</text>
<text transform="translate(839.8 1642.9) scale(1.02 1)" font-size="19.2" font-weight="700" fill="#1a2a5e" text-anchor="end">710.814</text>
<text transform="translate(934.2 1642.9) scale(0.905 1)" font-size="19.2" font-weight="700" fill="#1a2a5e" text-anchor="end">1,7%</text>
<rect x="420.5" y="1649.72" width="162.4" height="26.1" fill="#D9D9D9"/>
<rect x="585.5" y="1649.72" width="141.4" height="26.1" fill="#E4F0DD"/>
<rect x="729.5" y="1649.72" width="115.9" height="26.1" fill="#E4F0DD"/>
<rect x="848" y="1649.72" width="92" height="26.1" fill="#E4F0DD"/>
<text transform="translate(426.9 1672.02) scale(0.935 1)" font-size="19.2" font-weight="700" fill="#161616" stroke="#161616" stroke-width="0.2">Chubut</text>
<text transform="translate(591.6 1672.02) scale(1.012 1)" font-size="19.2" font-weight="700" fill="#1a2a5e">9.609</text>
<text transform="translate(839.8 1672.02) scale(1.02 1)" font-size="19.2" font-weight="700" fill="#1a2a5e" text-anchor="end">592.621</text>
<text transform="translate(934.2 1672.02) scale(0.905 1)" font-size="19.2" font-weight="700" fill="#1a2a5e" text-anchor="end">1,6%</text>
<rect x="420.5" y="1678.84" width="162.4" height="26.1" fill="#D9D9D9"/>
<rect x="585.5" y="1678.84" width="141.4" height="26.1" fill="#E4F0DD"/>
<rect x="729.5" y="1678.84" width="115.9" height="26.1" fill="#E4F0DD"/>
<rect x="848" y="1678.84" width="92" height="26.1" fill="#E4F0DD"/>
<text transform="translate(426.9 1701.14) scale(0.935 1)" font-size="19.2" font-weight="700" fill="#161616" stroke="#161616" stroke-width="0.2">Santa Fé</text>
<text transform="translate(591.6 1701.14) scale(1.012 1)" font-size="19.2" font-weight="700" fill="#1a2a5e">49.406</text>
<text transform="translate(839.8 1701.14) scale(1.02 1)" font-size="19.2" font-weight="700" fill="#1a2a5e" text-anchor="end">3.544.908</text>
<text transform="translate(934.2 1701.14) scale(0.905 1)" font-size="19.2" font-weight="700" fill="#1a2a5e" text-anchor="end">1,4%</text>
<rect x="420.5" y="1707.96" width="162.4" height="26.1" fill="#D9D9D9"/>
<rect x="585.5" y="1707.96" width="141.4" height="26.1" fill="#E4F0DD"/>
<rect x="729.5" y="1707.96" width="115.9" height="26.1" fill="#E4F0DD"/>
<rect x="848" y="1707.96" width="92" height="26.1" fill="#E4F0DD"/>
<text transform="translate(426.9 1730.26) scale(0.935 1)" font-size="19.2" font-weight="700" fill="#161616" stroke="#161616" stroke-width="0.2">Santa Cruz</text>
<text transform="translate(591.6 1730.26) scale(1.012 1)" font-size="19.2" font-weight="700" fill="#1a2a5e">4.592</text>
<text transform="translate(839.8 1730.26) scale(1.02 1)" font-size="19.2" font-weight="700" fill="#1a2a5e" text-anchor="end">337.226</text>
<text transform="translate(934.2 1730.26) scale(0.905 1)" font-size="19.2" font-weight="700" fill="#1a2a5e" text-anchor="end">1,4%</text>
<rect x="420.5" y="1737.08" width="162.4" height="26.1" fill="#D9D9D9"/>
<rect x="585.5" y="1737.08" width="141.4" height="26.1" fill="#E4F0DD"/>
<rect x="729.5" y="1737.08" width="115.9" height="26.1" fill="#E4F0DD"/>
<rect x="848" y="1737.08" width="92" height="26.1" fill="#E4F0DD"/>
<text transform="translate(426.9 1759.38) scale(0.935 1)" font-size="19.2" font-weight="700" fill="#161616" stroke="#161616" stroke-width="0.2">Capital Federal</text>
<text transform="translate(591.6 1759.38) scale(1.012 1)" font-size="19.2" font-weight="700" fill="#1a2a5e">26.654</text>
<text transform="translate(839.8 1759.38) scale(1.02 1)" font-size="19.2" font-weight="700" fill="#1a2a5e" text-anchor="end">3.121.707</text>
<text transform="translate(934.2 1759.38) scale(0.905 1)" font-size="19.2" font-weight="700" fill="#1a2a5e" text-anchor="end">0,9%</text>
<rect x="420.5" y="1766.2" width="162.4" height="29.2" fill="#D9D9D9"/>
<rect x="585.5" y="1766.2" width="141.4" height="29.2" fill="#E4F0DD"/>
<rect x="729.5" y="1766.2" width="115.9" height="29.2" fill="#E4F0DD"/>
<rect x="848" y="1766.2" width="92" height="29.2" fill="#E4F0DD"/>
<text transform="translate(426.9 1790.8) scale(0.935 1)" font-size="19.2" font-weight="700" fill="#161616" stroke="#161616" stroke-width="0.2">Tierra del Fuego</text>
<text transform="translate(591.6 1790.8) scale(1.012 1)" font-size="19.2" font-weight="700" fill="#1a2a5e">1.301</text>
<text transform="translate(839.8 1790.8) scale(1.02 1)" font-size="19.2" font-weight="700" fill="#1a2a5e" text-anchor="end">185.732</text>
<text transform="translate(934.2 1790.8) scale(0.905 1)" font-size="19.2" font-weight="700" fill="#1a2a5e" text-anchor="end">0,7%</text>
<rect x="420.5" y="1798.2" width="163.8" height="58.2" fill="#D9D9D9"/>
<rect x="585.5" y="1798.2" width="142.8" height="58.2" fill="#D9D9D9"/>
<rect x="729.5" y="1798.2" width="117.3" height="58.2" fill="#D9D9D9"/>
<rect x="848" y="1798.2" width="92" height="58.2" fill="#D9D9D9"/>
<text transform="translate(427.2 1832.6) scale(0.926 1)" font-size="17" font-weight="700" fill="#161616">TOTALES</text>
<text transform="translate(591.8 1832.6) scale(0.99 1)" font-size="17" font-weight="700" fill="#161616">1.224.286</text>
<text transform="translate(839.6 1832.6) scale(1.02 1)" font-size="17" font-weight="700" fill="#161616" text-anchor="end">45.892.285</text>
<text transform="translate(934 1832.6) scale(0.89 1)" font-size="17" font-weight="700" fill="#161616" text-anchor="end">2,7%</text>
<rect x="0" y="1903.4" width="1000" height="48.6" fill="#D3A583"/>
<rect x="0" y="1951.4" width="1000" height="48.6" fill="#000"/>
<text x="324.2" y="1936.6" font-size="18.9" fill="#3a2116" textLength="350.5" lengthAdjust="spacingAndGlyphs" stroke="#3a2116" stroke-width="0.25">Fuente: Agencia Nacional de Discapacidad</text>
<text x="447.1" y="1983.6" font-size="32" font-weight="700" fill="#fff" textLength="104" lengthAdjust="spacingAndGlyphs">infobae</text>
</svg>
</body>
</html>
